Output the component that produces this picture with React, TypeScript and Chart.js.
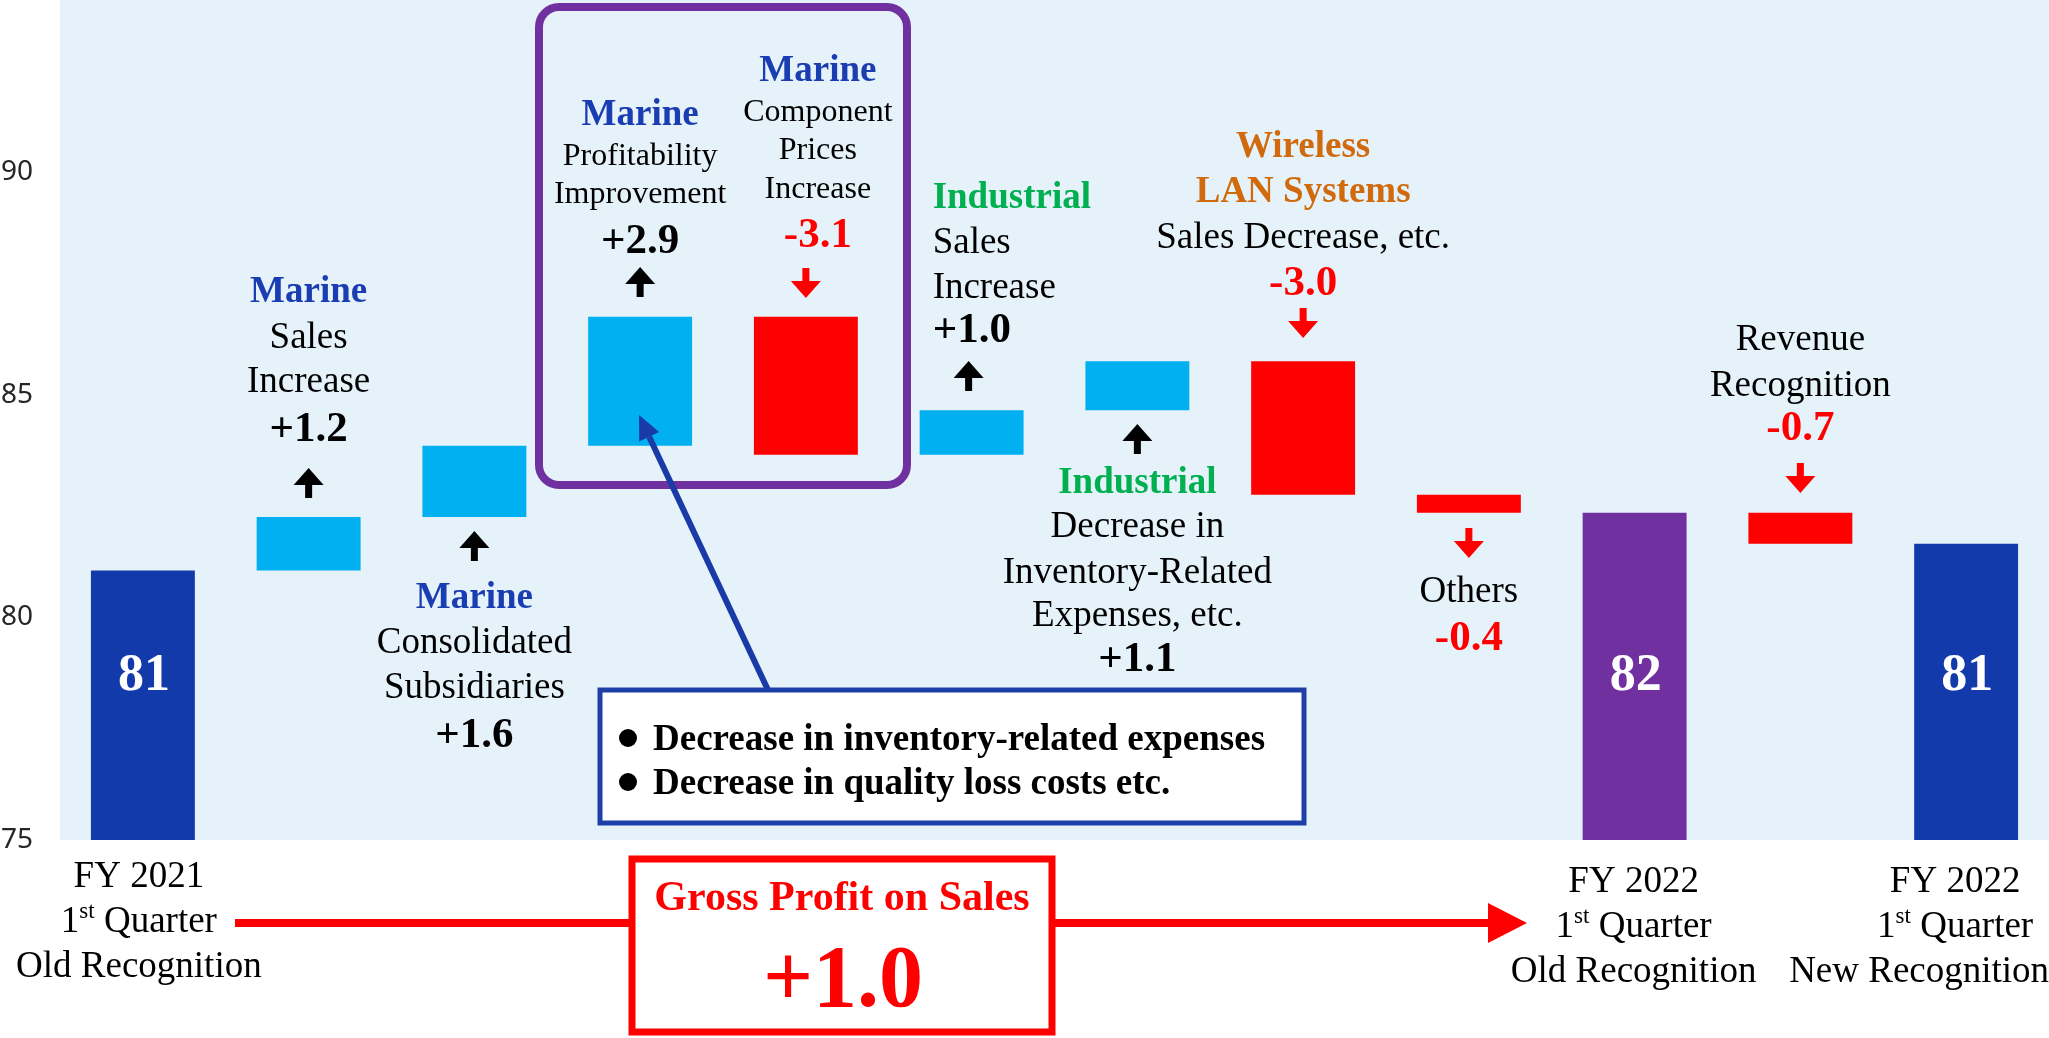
import React, { useEffect, useRef } from "react";
import { Chart, registerables } from "chart.js";

Chart.register(...registerables);

// ---------------- data ----------------
const categories = [
  "FY 2021 1st Quarter Old Recognition",
  "Marine Sales Increase",
  "Marine Consolidated Subsidiaries",
  "Marine Profitability Improvement",
  "Marine Component Prices Increase",
  "Industrial Sales Increase",
  "Industrial Decrease in Inventory-Related Expenses, etc.",
  "Wireless LAN Systems Sales Decrease, etc.",
  "Others",
  "FY 2022 1st Quarter Old Recognition",
  "Revenue Recognition",
  "FY 2022 1st Quarter New Recognition",
];
const totals: (number | null)[] = [81.05, null, null, null, null, null, null, null, null, 82.35, null, 81.65];
const deltas: (number | null)[] = [null, 1.2, 1.6, 2.9, -3.1, 1.0, 1.1, -3.0, -0.4, null, -0.7, null];
const yTicks = [75, 80, 85, 90];
const yMin = 75;
const yMax = 93.86;
const grossProfitChange = 1.0;

// ---------------- styles ----------------
const barColors = [
  "#133AAB", "#00B0F0", "#00B0F0", "#00B0F0", "#FF0000", "#00B0F0",
  "#00B0F0", "#FF0000", "#FF0000", "#7030A0", "#FF0000", "#133AAB",
];
const SERIF = '"Liberation Serif", "Times New Roman", serif';
const font = (size: number, bold = false) => `${bold ? "bold " : ""}${size}px ${SERIF}`;
const BLUE_T = "#1A3DB2";
const GREEN_T = "#00B050";
const ORANGE_T = "#D06A0C";
const RED = "#FF0000";
const BLACK = "#000000";
const PLOT_BG = "#E6F2FA";
const TY = 3; // text vertical nudge

// build the waterfall ranges from totals and deltas
const ranges: [number, number][] = [];
{
  let running = 0;
  categories.forEach((_, i) => {
    const t = totals[i];
    if (t != null) {
      ranges.push([yMin, t]);
      running = t;
    } else {
      const d = deltas[i] as number;
      const next = running + d;
      ranges.push([Math.min(running, next), Math.max(running, next)]);
      running = next;
    }
  });
}
const fmtDelta = (d: number) => (d > 0 ? "+" : "") + d.toFixed(1);

type Line = { t: string; y: number; f: string; c: string };
type Group = {
  idx: number;
  dx?: number;
  align?: CanvasTextAlign;
  lines: Line[];
  arrow?: { dir: "up" | "down"; tip: number; tail: number; dx?: number };
};

const R37 = font(37);
const B37 = font(37, true);
const R32 = font(32);
const V43 = font(43, true);

const groups: Group[] = [
  {
    idx: 1,
    lines: [
      { t: "Marine", y: 289, f: B37, c: BLUE_T },
      { t: "Sales", y: 335, f: R37, c: BLACK },
      { t: "Increase", y: 379, f: R37, c: BLACK },
      { t: fmtDelta(deltas[1] as number), y: 427, f: V43, c: BLACK },
    ],
    arrow: { dir: "up", tip: 468, tail: 498 },
  },
  {
    idx: 2,
    lines: [
      { t: "Marine", y: 595, f: B37, c: BLUE_T },
      { t: "Consolidated", y: 640, f: R37, c: BLACK },
      { t: "Subsidiaries", y: 685, f: R37, c: BLACK },
      { t: fmtDelta(deltas[2] as number), y: 733, f: V43, c: BLACK },
    ],
    arrow: { dir: "up", tip: 531, tail: 561 },
  },
  {
    idx: 3,
    lines: [
      { t: "Marine", y: 112, f: B37, c: BLUE_T },
      { t: "Profitability", y: 154, f: R32, c: BLACK },
      { t: "Improvement", y: 192, f: R32, c: BLACK },
      { t: fmtDelta(deltas[3] as number), y: 239, f: V43, c: BLACK },
    ],
    arrow: { dir: "up", tip: 267, tail: 297 },
  },
  {
    idx: 4,
    dx: 12,
    lines: [
      { t: "Marine", y: 68, f: B37, c: BLUE_T },
      { t: "Component", y: 110, f: R32, c: BLACK },
      { t: "Prices", y: 148, f: R32, c: BLACK },
      { t: "Increase", y: 187, f: R32, c: BLACK },
      { t: fmtDelta(deltas[4] as number), y: 233, f: V43, c: RED },
    ],
    arrow: { dir: "down", tip: 298, tail: 268 },
  },
  {
    idx: 5,
    dx: -39,
    align: "left",
    lines: [
      { t: "Industrial", y: 195, f: B37, c: GREEN_T },
      { t: "Sales", y: 240, f: R37, c: BLACK },
      { t: "Increase", y: 285, f: R37, c: BLACK },
      { t: fmtDelta(deltas[5] as number), y: 328, f: V43, c: BLACK },
    ],
    arrow: { dir: "up", tip: 361, tail: 391, dx: -3 },
  },
  {
    idx: 6,
    lines: [
      { t: "Industrial", y: 480, f: B37, c: GREEN_T },
      { t: "Decrease in", y: 524, f: R37, c: BLACK },
      { t: "Inventory-Related", y: 570, f: R37, c: BLACK },
      { t: "Expenses, etc.", y: 613, f: R37, c: BLACK },
      { t: fmtDelta(deltas[6] as number), y: 657, f: V43, c: BLACK },
    ],
    arrow: { dir: "up", tip: 424, tail: 454 },
  },
  {
    idx: 7,
    lines: [
      { t: "Wireless", y: 144, f: B37, c: ORANGE_T },
      { t: "LAN Systems", y: 189, f: B37, c: ORANGE_T },
      { t: "Sales Decrease, etc.", y: 235, f: R37, c: BLACK },
      { t: fmtDelta(deltas[7] as number), y: 281, f: V43, c: RED },
    ],
    arrow: { dir: "down", tip: 338, tail: 308 },
  },
  {
    idx: 8,
    lines: [
      { t: "Others", y: 589, f: R37, c: BLACK },
      { t: fmtDelta(deltas[8] as number), y: 636, f: V43, c: RED },
    ],
    arrow: { dir: "down", tip: 558, tail: 528 },
  },
  {
    idx: 10,
    lines: [
      { t: "Revenue", y: 337, f: R37, c: BLACK },
      { t: "Recognition", y: 383, f: R37, c: BLACK },
      { t: fmtDelta(deltas[10] as number), y: 426, f: V43, c: RED },
    ],
    arrow: { dir: "down", tip: 493, tail: 463 },
  },
];

type XLabel = { idx: number; dx: number; y0: number; year: string; last: string; lastDx?: number };
const xLabels: XLabel[] = [
  { idx: 0, dx: -4, y0: 877, year: "FY 2021", last: "Old Recognition" },
  { idx: 9, dx: -1, y0: 882, year: "FY 2022", last: "Old Recognition" },
  { idx: 11, dx: -11, y0: 882, year: "FY 2022", last: "New Recognition", lastDx: -36 },
];

function drawArrow(ctx: CanvasRenderingContext2D, x: number, tip: number, tail: number, color: string) {
  const dir = tip < tail ? -1 : 1; // -1: up
  const headH = 17;
  const headW = 30;
  const shaftW = 7;
  const base = tip - dir * headH;
  ctx.save();
  ctx.fillStyle = color;
  ctx.beginPath();
  ctx.moveTo(x, tip);
  ctx.lineTo(x - headW / 2, base);
  ctx.lineTo(x + headW / 2, base);
  ctx.closePath();
  ctx.fill();
  ctx.fillRect(x - shaftW / 2, Math.min(base, tail), shaftW, Math.abs(tail - base));
  ctx.restore();
}

function roundRect(ctx: CanvasRenderingContext2D, x: number, y: number, w: number, h: number, r: number) {
  ctx.beginPath();
  ctx.moveTo(x + r, y);
  ctx.lineTo(x + w - r, y);
  ctx.arcTo(x + w, y, x + w, y + r, r);
  ctx.lineTo(x + w, y + h - r);
  ctx.arcTo(x + w, y + h, x + w - r, y + h, r);
  ctx.lineTo(x + r, y + h);
  ctx.arcTo(x, y + h, x, y + h - r, r);
  ctx.lineTo(x, y + r);
  ctx.arcTo(x, y, x + r, y, r);
  ctx.closePath();
}

const bgPlugin = {
  id: "bg",
  beforeDraw(chart: any) {
    const { ctx, chartArea } = chart;
    ctx.save();
    ctx.fillStyle = "#FFFFFF";
    ctx.fillRect(0, 0, chart.width, chart.height);
    ctx.fillStyle = PLOT_BG;
    ctx.fillRect(chartArea.left, chartArea.top, chartArea.right - chartArea.left, chartArea.bottom - chartArea.top);
    ctx.restore();
  },
};

const annotPlugin = {
  id: "annot",
  afterDraw(chart: any) {
    const ctx: CanvasRenderingContext2D = chart.ctx;
    const xs = chart.scales.x;
    const cx = (i: number) => xs.getPixelForValue(i);
    ctx.save();
    ctx.textBaseline = "middle";

    // purple highlight box
    ctx.strokeStyle = "#7030A0";
    ctx.lineWidth = 8;
    roundRect(ctx, 539, 7, 368, 478, 20);
    ctx.stroke();

    // total labels inside bars
    ctx.textAlign = "center";
    ctx.fillStyle = "#FFFFFF";
    ctx.font = font(52, true);
    categories.forEach((_, i) => {
      const t = totals[i];
      if (t != null) {
        ctx.fillText(String(Math.floor(t)), cx(i) + 1, 677);
      }
    });

    // annotation groups
    groups.forEach((g) => {
      const x = cx(g.idx) + (g.dx || 0);
      ctx.textAlign = g.align || "center";
      g.lines.forEach((l) => {
        ctx.font = l.f;
        ctx.fillStyle = l.c;
        ctx.fillText(l.t, x, l.y + TY);
      });
      if (g.arrow) {
        const a = g.arrow;
        drawArrow(ctx, cx(g.idx) + (a.dx || 0), a.tip, a.tail, a.dir === "up" ? BLACK : RED);
      }
    });

    // blue callout line with arrow head
    {
      const x0 = 768, y0 = 690, x1 = 639, y1 = 415;
      const ang = Math.atan2(y1 - y0, x1 - x0);
      const hl = 24, hw = 11;
      const bx = x1 - hl * Math.cos(ang), by = y1 - hl * Math.sin(ang);
      ctx.strokeStyle = "#1A3AA8";
      ctx.lineWidth = 6;
      ctx.beginPath();
      ctx.moveTo(x0, y0);
      ctx.lineTo(bx, by);
      ctx.stroke();
      ctx.fillStyle = "#1A3AA8";
      ctx.beginPath();
      ctx.moveTo(x1, y1);
      ctx.lineTo(bx + hw * Math.sin(ang), by - hw * Math.cos(ang));
      ctx.lineTo(bx - hw * Math.sin(ang), by + hw * Math.cos(ang));
      ctx.closePath();
      ctx.fill();
    }

    // blue callout box
    ctx.fillStyle = "#FFFFFF";
    ctx.fillRect(600, 690, 704, 133);
    ctx.strokeStyle = "#1F3FA8";
    ctx.lineWidth = 5;
    ctx.strokeRect(600, 690, 704, 133);
    ctx.fillStyle = BLACK;
    ctx.textAlign = "left";
    ctx.font = B37;
    [
      { t: "Decrease in inventory-related expenses", y: 738 },
      { t: "Decrease in quality loss costs etc.", y: 782 },
    ].forEach((b) => {
      ctx.beginPath();
      ctx.arc(628, b.y, 9, 0, Math.PI * 2);
      ctx.fill();
      ctx.fillText(b.t, 653, b.y + 2);
    });

    // red connecting line + arrow
    ctx.fillStyle = RED;
    ctx.fillRect(235, 919, 632 - 235, 8);
    ctx.fillRect(1052, 919, 1490 - 1052, 8);
    ctx.beginPath();
    ctx.moveTo(1527, 923);
    ctx.lineTo(1488, 903);
    ctx.lineTo(1488, 943);
    ctx.closePath();
    ctx.fill();

    // red box
    ctx.strokeStyle = RED;
    ctx.lineWidth = 7;
    ctx.fillStyle = "#FFFFFF";
    ctx.fillRect(632, 859, 420, 173);
    ctx.strokeRect(632, 859, 420, 173);
    ctx.fillStyle = RED;
    ctx.textAlign = "center";
    ctx.font = font(42, true);
    ctx.fillText("Gross Profit on Sales", 842, 899);
    ctx.font = font(88, true);
    ctx.fillText(fmtDelta(grossProfitChange), 843, 983);

    // x category labels
    ctx.fillStyle = BLACK;
    xLabels.forEach((xl) => {
      const x = cx(xl.idx) + xl.dx;
      ctx.textAlign = "center";
      ctx.font = R37;
      ctx.fillText(xl.year, x, xl.y0);
      // "1st Quarter" with superscript
      ctx.font = R37;
      const w1 = ctx.measureText("1").width;
      const w3 = ctx.measureText(" Quarter").width;
      ctx.font = font(23);
      const w2 = ctx.measureText("st").width;
      const total = w1 + w2 + w3;
      let sx = x - total / 2;
      const y2 = xl.y0 + 45;
      ctx.textAlign = "left";
      ctx.font = R37;
      ctx.fillText("1", sx, y2);
      sx += w1;
      ctx.font = font(23);
      ctx.fillText("st", sx, y2 - 10);
      sx += w2;
      ctx.font = R37;
      ctx.fillText(" Quarter", sx, y2);
      ctx.textAlign = "center";
      ctx.fillText(xl.last, x + (xl.lastDx || 0), xl.y0 + 90);
    });

    ctx.restore();
  },
};

export default function App() {
  const ref = useRef<HTMLCanvasElement | null>(null);
  useEffect(() => {
    const canvas = ref.current;
    if (!canvas) return;
    const chart = new Chart(canvas, {
      type: "bar",
      data: {
        labels: categories,
        datasets: [
          {
            data: ranges as any,
            backgroundColor: barColors,
            borderWidth: 0,
            barPercentage: 0.627,
            categoryPercentage: 1,
          },
        ],
      },
      options: {
        responsive: false,
        animation: false,
        devicePixelRatio: 1,
        layout: { padding: { left: 0, right: 0, top: 0, bottom: 198 } },
        plugins: { legend: { display: false }, tooltip: { enabled: false } },
        scales: {
          x: { display: false },
          y: {
            min: yMin,
            max: yMax,
            grid: { display: false, drawTicks: false },
            border: { display: false },
            ticks: {
              padding: 27,
              color: "#262626",
              font: { family: '"Noto Sans", "DejaVu Sans", sans-serif', size: 28 },
            },
            afterBuildTicks: (s: any) => {
              s.ticks = yTicks.map((v) => ({ value: v }));
            },
            afterFit: (s: any) => {
              s.width = 60;
              s.paddingTop = 0;
              s.paddingBottom = 0;
            },
          },
        },
      },
      plugins: [bgPlugin, annotPlugin],
    });
    return () => chart.destroy();
  }, []);
  return (
    <div style={{ position: "fixed", left: 0, top: 0, width: 2049, height: 1038 }}>
      <canvas ref={ref} width={2049} height={1038} style={{ display: "block", width: 2049, height: 1038 }} />
    </div>
  );
}
